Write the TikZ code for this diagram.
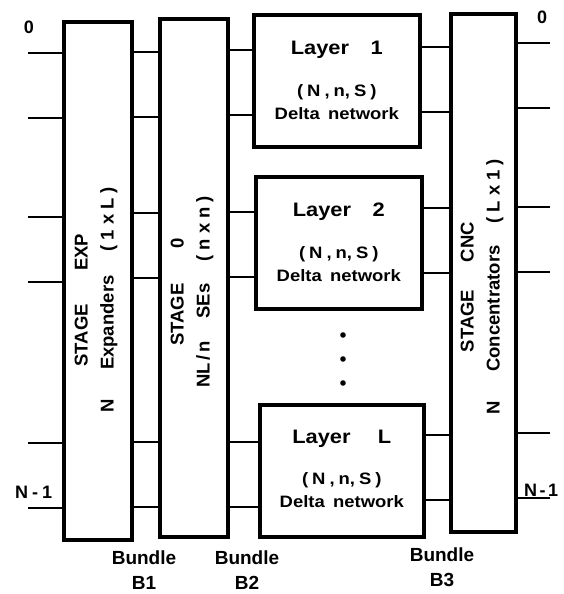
\documentclass[tikz,border=0pt]{standalone}
\usepackage{fontspec}
\newfontfamily\widesans{Liberation Sans}[FakeStretch=1.12]
\newfontfamily\plainsans{Liberation Sans}
\begin{document}
\begin{tikzpicture}[x=1pt,y=-1pt,
  box/.style={draw, line width=3.6pt, inner sep=0pt},
  wire/.style={line width=1.8pt},
  lbl/.style={font=\plainsans\bfseries\fontsize{18}{20}\selectfont, inner sep=0pt},
  title/.style={font=\widesans\bfseries\fontsize{19.5}{22}\selectfont, inner sep=0pt},
  sub/.style={font=\widesans\bfseries\fontsize{16.5}{18}\selectfont, inner sep=0pt},
  rot/.style={rotate=90, align=center, inner sep=0pt, font=\plainsans\bfseries\fontsize{18.5}{26}\selectfont},
  bund/.style={align=center, inner sep=0pt, font=\plainsans\bfseries\fontsize{19}{25}\selectfont}]
\useasboundingbox (0,0) rectangle (563,594);

% boxes
\node[box, minimum width=68, minimum height=518, anchor=north west] (exp) at (62,20) {};
\node[box, minimum width=68, minimum height=518, anchor=north west] (st0) at (158,17) {};
\node[box, minimum width=166, minimum height=132, anchor=north west] (L1) at (252,13) {};
\node[box, minimum width=166, minimum height=132, anchor=north west] (L2) at (254,175) {};
\node[box, minimum width=164, minimum height=132, anchor=north west] (LL) at (258,403) {};
\node[box, minimum width=65, minimum height=518, anchor=north west] (cnc) at (449,12) {};

% input wires
\foreach \y [count=\i] in {53,118,217,282,443,508} {
  \coordinate (in\i) at (28,\y);
  \draw[wire] (in\i) -- (exp.west |- in\i);
}
% bundle B1
\foreach \y in {52,117,213,278,442,507} {
  \draw[wire] (exp.east |- 0,\y) -- (st0.west |- 0,\y);
}
% bundle B2
\foreach \y in {50,115} \draw[wire] (st0.east |- 0,\y) -- (L1.west |- 0,\y);
\foreach \y in {212,277} \draw[wire] (st0.east |- 0,\y) -- (L2.west |- 0,\y);
\foreach \y in {442,507} \draw[wire] (st0.east |- 0,\y) -- (LL.west |- 0,\y);
% bundle B3
\foreach \y in {47,112} \draw[wire] (L1.east |- 0,\y) -- (cnc.west |- 0,\y);
\foreach \y in {208,273} \draw[wire] (L2.east |- 0,\y) -- (cnc.west |- 0,\y);
\foreach \y in {435,500} \draw[wire] (LL.east |- 0,\y) -- (cnc.west |- 0,\y);
% output wires
\foreach \y [count=\i] in {43,108,207,272,433,498} {
  \coordinate (out\i) at (550,\y);
  \draw[wire] (cnc.east |- out\i) -- (out\i);
}

% port labels
\node[lbl] (zl) at (29,27) {0};
\node[lbl] (zr) at (542,17) {0};
\node[lbl, anchor=west] (nl) at (15,492) {N\kern4pt-\kern4pt1};
\node[lbl, anchor=west] (nr) at (524,490) {N\kern2.5pt-\kern2.5pt1};

% stage texts
\node[rot] (texp) at (96,300) {STAGE\hspace{1.8em}EXP\\N\hspace{1.6em}Expanders\hspace{1.3em}(\kern5pt1\kern5pt x\kern5pt L\kern5pt)};
\node[rot] (tst0) at (192,292) {STAGE\hspace{1.9em}0\\NL\kern3pt/\kern3pt n\hspace{1.2em}SEs\hspace{1.2em}(\kern5pt n\kern5pt x\kern5pt n\kern5pt)};
\node[rot] (tcnc) at (482,287) {STAGE\hspace{1.5em}CNC\\N\hspace{1.6em}Concentrators\hspace{1.2em}(\kern5pt L\kern5pt x\kern5pt 1\kern5pt)};

% layer texts
\node[title] (t1) at ([yshift=31pt]L1.center) {Layer\hspace{1.1em}1};
\node[sub] (p1) at ([yshift=-11pt]L1.center) {(\kern4pt N\kern4pt,\kern4pt n,\kern4pt S\kern4pt)};
\node[sub] (d1) at ([yshift=-33pt]L1.center) {Delta\hspace{0.5em}network};
\node[title] (t2) at ([yshift=31pt]L2.center) {Layer\hspace{1.1em}2};
\node[sub] (p2) at ([yshift=-11pt]L2.center) {(\kern4pt N\kern4pt,\kern4pt n,\kern4pt S\kern4pt)};
\node[sub] (d2) at ([yshift=-33pt]L2.center) {Delta\hspace{0.5em}network};
\node[title] (tL) at ([yshift=32pt]LL.center) {Layer\hspace{1.4em}L};
\node[sub] (pL) at ([yshift=-9pt]LL.center) {(\kern4pt N\kern4pt,\kern4pt n,\kern4pt S\kern4pt)};
\node[sub] (dL) at ([yshift=-31pt]LL.center) {Delta\hspace{0.5em}network};

% dots
\foreach \y in {335,359,383} \fill (343,\y) circle (2.8);

% bundle labels
\node[bund] (b1) at (144,570) {Bundle\\B1};
\node[bund] (b2) at (247,570) {Bundle\\B2};
\node[bund] (b3) at (442,567) {Bundle\\B3};
\end{tikzpicture}
\end{document}
